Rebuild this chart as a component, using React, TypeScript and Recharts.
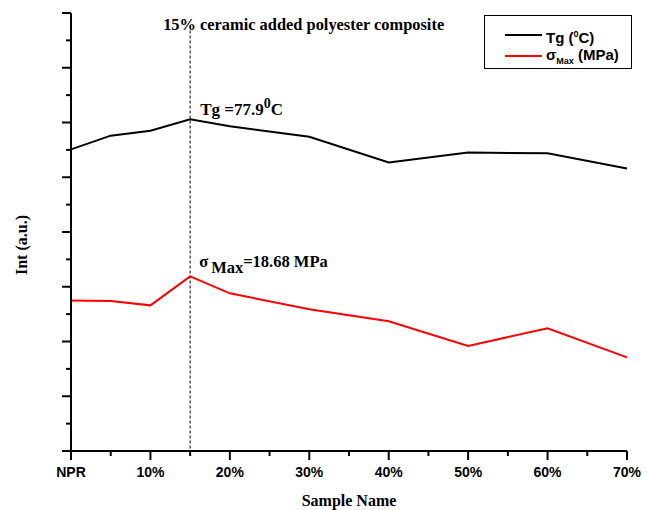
import React from "react";
import {
  LineChart,
  Line,
  XAxis,
  YAxis,
  Legend,
  ReferenceLine,
  ReferenceDot,
} from "recharts";

// sample content (NPR = 0 %)
const samples = [0, 5, 10, 15, 20, 30, 40, 50, 60, 70];
const tgValues = [5.51, 5.76, 5.85, 6.06, 5.93, 5.74, 5.27, 5.45, 5.44, 5.16];
const sigmaValues = [2.75, 2.74, 2.66, 3.19, 2.88, 2.59, 2.37, 1.92, 2.24, 1.71];

const xTicks = [0, 5, 10, 15, 20, 25, 30, 35, 40, 45, 50, 55, 60, 65, 70];
const xTickLabels: Record<number, string> = {
  0: "NPR",
  10: "10%",
  20: "20%",
  30: "30%",
  40: "40%",
  50: "50%",
  60: "60%",
  70: "70%",
};
const yTicks = [0, 0.5, 1, 1.5, 2, 2.5, 3, 3.5, 4, 4.5, 5, 5.5, 6, 6.5, 7, 7.5, 8];

const chartData = samples.map((s, i) => ({
  s,
  tg: tgValues[i],
  sigma: sigmaValues[i],
}));

const SERIF = "'Liberation Serif', 'Times New Roman', serif";
const SANS = "'Liberation Sans', Arial, sans-serif";

const XTick = (props: any) => {
  const { x, y, payload } = props;
  const label = xTickLabels[payload.value];
  const major = label !== undefined;
  return (
    <g>
      <line x1={x} x2={x} y1={y} y2={y + (major ? 9 : 5)} stroke="#000" strokeWidth={2} />
      {major && (
        <text x={x} y={y + 26} textAnchor="middle" fontFamily={SANS} fontWeight="bold" fontSize={14} fill="#000">
          {label}
        </text>
      )}
    </g>
  );
};

const YTick = (props: any) => {
  const { x, y, payload } = props;
  const major = Number.isInteger(payload.value);
  return <line x1={x - (major ? 9 : 5)} x2={x} y1={y} y2={y} stroke="#000" strokeWidth={2} />;
};

const LegendBox = () => (
  <div
    style={{
      border: "1px solid #000",
      width: 146,
      height: 52,
      background: "#fff",
      fontFamily: SANS,
      fontWeight: "bold",
      fontSize: 15,
      position: "relative",
    }}
  >
    <div style={{ position: "absolute", left: 20, top: 18, width: 37, height: 2, background: "#000" }} />
    <div style={{ position: "absolute", left: 61, top: 9, lineHeight: "18px" }}>
      Tg (<sup style={{ fontSize: 9 }}>0</sup>C)
    </div>
    <div style={{ position: "absolute", left: 20, top: 39, width: 37, height: 2, background: "#ff0000" }} />
    <div style={{ position: "absolute", left: 61, top: 30, lineHeight: "18px" }}>
      σ<sub style={{ fontSize: 9 }}>Max</sub> (MPa)
    </div>
  </div>
);

export default function App() {
  return (
    <div style={{ position: "absolute", left: 0, top: 0, background: "#fff" }}>
      <LineChart
        width={647}
        height={510}
        data={chartData}
        margin={{ top: 13, right: 20, left: 0, bottom: 0 }}
      >
        <XAxis
          dataKey="s"
          type="number"
          domain={[0, 70]}
          ticks={xTicks}
          interval={0}
          height={59}
          tickSize={0}
          tickMargin={0}
          tickLine={false}
          tick={<XTick />}
          axisLine={{ stroke: "#000", strokeWidth: 2 }}
          label={{
            value: "Sample Name",
            position: "insideBottom",
            offset: 4,
            style: { fontFamily: SERIF, fontWeight: "bold", fontSize: 16, fill: "#000" },
          }}
        />
        <YAxis
          type="number"
          domain={[0, 8]}
          ticks={yTicks}
          interval={0}
          width={71}
          tickSize={0}
          tickMargin={0}
          tickLine={false}
          tick={<YTick />}
          axisLine={{ stroke: "#000", strokeWidth: 2 }}
          label={{
            content: () => (
              <text
                x={27}
                y={245}
                transform="rotate(-90 27 245)"
                textAnchor="middle"
                fontFamily={SERIF}
                fontWeight="bold"
                fontSize={16}
                fill="#000"
              >
                Int (a.u.)
              </text>
            ),
          }}
        />
        <ReferenceLine
          segment={[
            { x: 15, y: 7.68 },
            { x: 15, y: 0 },
          ]}
          stroke="#000"
          strokeWidth={1}
          strokeDasharray="3 2"
        />
        <Line
          dataKey="tg"
          name="Tg (0C)"
          stroke="#000"
          strokeWidth={2}
          dot={false}
          isAnimationActive={false}
        />
        <Line
          dataKey="sigma"
          name="σMax (MPa)"
          stroke="#ff0000"
          strokeWidth={2}
          dot={false}
          isAnimationActive={false}
        />
        <ReferenceDot
          x={15}
          y={8}
          r={0}
          fill="none"
          stroke="none"
          label={{
            content: (p: any) => (
              <text x={p.viewBox.x - 27} y={p.viewBox.y + 17} fontFamily={SERIF} fontWeight="bold" fontSize={16.4} fill="#000">
                15% ceramic added polyester composite
              </text>
            ),
          }}
        />
        <ReferenceDot
          x={15}
          y={tgValues[3]}
          r={0}
          fill="none"
          stroke="none"
          label={{
            content: (p: any) => (
              <text x={p.viewBox.x + 10} y={p.viewBox.y - 4} fontFamily={SERIF} fontWeight="bold" fontSize={17} fill="#000">
                Tg =77.9
                <tspan dy={-7} fontSize={14}>0</tspan>
                <tspan dy={7}>C</tspan>
              </text>
            ),
          }}
        />
        <ReferenceDot
          x={15}
          y={sigmaValues[3]}
          r={0}
          fill="none"
          stroke="none"
          label={{
            content: (p: any) => (
              <text x={p.viewBox.x + 9} y={p.viewBox.y - 9} fontFamily={SERIF} fontWeight="bold" fontSize={16.5} fill="#000">
                σ
                <tspan dx={3} dy={6}>Max</tspan>
                <tspan dy={-6}>=18.68 MPa</tspan>
              </text>
            ),
          }}
        />
        <Legend
          layout="vertical"
          align="center"
          verticalAlign="middle"
          content={<LegendBox />}
          wrapperStyle={{ left: 484, top: 15, width: 148, height: 54 }}
        />
      </LineChart>
    </div>
  );
}
